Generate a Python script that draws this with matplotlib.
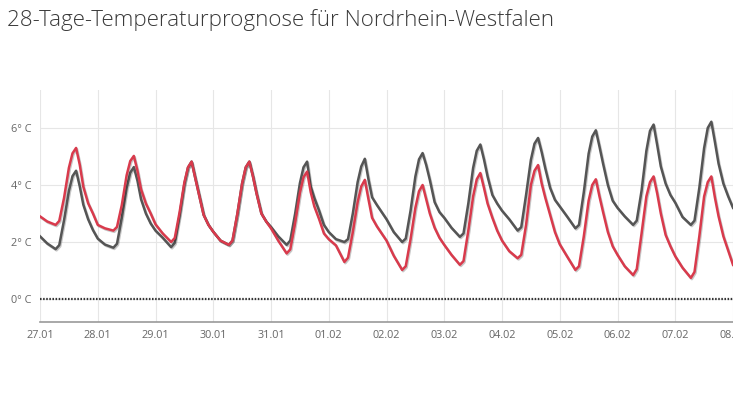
import matplotlib
matplotlib.use("Agg")
import matplotlib.pyplot as plt
import matplotlib.patheffects as pe

hours = [0, 3, 6.5, 8, 10, 12, 13.5, 15, 16.5, 18, 20, 22]

# graue Kurve, eine Zeile pro Tag (27.01 ... 07.02)
gray_days = [
    [2.2, 1.95, 1.75, 1.89, 2.77, 3.79, 4.31, 4.5, 3.96, 3.31, 2.80, 2.42],
    [2.12, 1.91, 1.8, 1.94, 2.85, 3.89, 4.43, 4.63, 4.15, 3.5, 3.0, 2.65],
    [2.4, 2.15, 1.82, 1.97, 2.93, 4.04, 4.61, 4.82, 4.25, 3.7, 2.95, 2.6],
    [2.36, 2.05, 1.9, 2.05, 2.98, 4.06, 4.62, 4.82, 4.3, 3.7, 3.0, 2.72],
    [2.53, 2.2, 1.9, 2.05, 2.98, 4.06, 4.62, 4.82, 3.95, 3.55, 3.1, 2.6],
    [2.35, 2.1, 2.0, 2.1, 3.0, 4.1, 4.65, 4.92, 4.2, 3.57, 3.3, 3.05],
    [2.8, 2.35, 2.0, 2.12, 3.1, 4.3, 4.9, 5.12, 4.7, 4.18, 3.4, 3.05],
    [2.85, 2.5, 2.18, 2.3, 3.35, 4.6, 5.2, 5.42, 4.9, 4.3, 3.65, 3.35],
    [3.1, 2.8, 2.4, 2.52, 3.65, 4.88, 5.45, 5.65, 5.15, 4.58, 3.9, 3.48],
    [3.25, 2.9, 2.48, 2.6, 3.75, 5.1, 5.7, 5.92, 5.35, 4.75, 4.0, 3.45],
    [3.2, 2.9, 2.6, 2.75, 3.8, 5.2, 5.9, 6.12, 5.4, 4.65, 4.05, 3.65],
    [3.38, 2.88, 2.6, 2.75, 3.9, 5.3, 6.0, 6.22, 5.5, 4.75, 4.05, 3.6],
]
gray_end = 3.2

# rote Kurve
red_days = [
    [2.9, 2.72, 2.6, 2.74, 3.55, 4.6, 5.11, 5.3, 4.72, 3.94, 3.36, 3.0],
    [2.6, 2.48, 2.4, 2.53, 3.3, 4.34, 4.84, 5.02, 4.5, 3.85, 3.35, 3.0],
    [2.62, 2.3, 2.0, 2.14, 3.04, 4.09, 4.62, 4.82, 4.25, 3.7, 2.95, 2.6],
    [2.36, 2.05, 1.9, 2.05, 2.98, 4.06, 4.62, 4.82, 4.3, 3.7, 3.0, 2.72],
    [2.48, 2.05, 1.6, 1.74, 2.66, 3.72, 4.27, 4.47, 3.75, 3.25, 2.8, 2.3],
    [2.1, 1.88, 1.3, 1.45, 2.35, 3.4, 3.95, 4.18, 3.5, 2.85, 2.55, 2.3],
    [2.05, 1.52, 1.02, 1.15, 2.1, 3.2, 3.78, 4.0, 3.5, 3.0, 2.5, 2.15],
    [1.9, 1.55, 1.2, 1.33, 2.4, 3.6, 4.2, 4.42, 3.9, 3.35, 2.85, 2.4],
    [2.05, 1.68, 1.43, 1.55, 2.6, 4.0, 4.5, 4.7, 4.05, 3.55, 2.95, 2.35],
    [1.92, 1.5, 1.02, 1.15, 2.2, 3.45, 4.0, 4.2, 3.6, 3.05, 2.35, 1.85],
    [1.55, 1.15, 0.84, 1.05, 2.3, 3.6, 4.1, 4.3, 3.7, 3.0, 2.25, 1.85],
    [1.5, 1.1, 0.74, 0.95, 2.2, 3.6, 4.1, 4.3, 3.55, 2.9, 2.2, 1.7],
]
red_end = 1.2

date_labels = ["27.01", "28.01", "29.01", "30.01", "31.01", "01.02", "02.02",
               "03.02", "04.02", "05.02", "06.02", "07.02", "08.02"]
y_ticks = [0, 2, 4, 6]
y_labels = ["0° C", "2° C", "4° C", "6° C"]


def flatten(days, end):
    xs, ys = [], []
    for d, row in enumerate(days):
        for h, v in zip(hours, row):
            xs.append(d + h / 24.0)
            ys.append(v)
    xs.append(len(days))
    ys.append(end)
    return xs, ys


plt.rcParams["font.family"] = ["Open Sans", "DejaVu Sans"]

fig = plt.figure(figsize=(7.33, 4.12), dpi=100)
ax = fig.add_axes([40 / 733, 90 / 412, 693 / 733, 232 / 412])

fig.text(7 / 733, 1 - 20 / 412, "28-Tage-Temperaturprognose für Nordrhein-Westfalen",
         fontsize=16.1, fontweight="light", color="#3a3a3a", va="center", ha="left")

shadow = [pe.SimpleLineShadow(offset=(0.7, -0.9), alpha=0.22), pe.Normal()]

gx, gy = flatten(gray_days, gray_end)
rx, ry = flatten(red_days, red_end)
ax.plot(gx, gy, color="#555555", lw=1.8, path_effects=shadow, solid_joinstyle="round", zorder=3)
ax.plot(rx, ry, color="#d93a4c", lw=1.8, path_effects=shadow, solid_joinstyle="round", zorder=4)

ax.axhline(0, color="#333333", lw=1.6, ls=(0, (0.7, 0.7)), zorder=2)

ax.set_xlim(0, len(date_labels) - 1)
ax.set_ylim(-0.807, 7.333)
ax.set_xticks(range(len(date_labels)))
ax.set_xticklabels(date_labels)
ax.set_yticks(y_ticks)
ax.set_yticklabels(y_labels)

ax.grid(True, color="#e6e6e6", lw=0.8)
ax.set_axisbelow(True)
for side in ["top", "right", "left"]:
    ax.spines[side].set_visible(False)
ax.spines["bottom"].set_color("#999999")
ax.spines["bottom"].set_linewidth(1.2)
ax.tick_params(length=0, labelsize=7.8, labelcolor="#666666")
ax.tick_params(axis="x", pad=6)
ax.tick_params(axis="y", pad=6)
for lab in ax.get_xticklabels():
    lab.set_clip_on(False)

fig.savefig("out.png", dpi=100)
